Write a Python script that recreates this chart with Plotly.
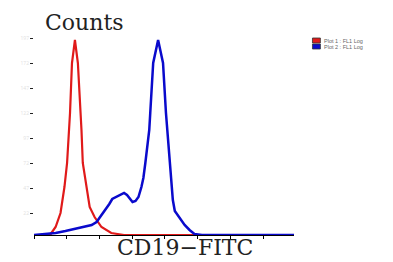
import plotly.graph_objects as go

# Data (x in log decades, y in counts)
red_x = [0.00, 0.36, 0.51, 0.66, 0.81, 0.93, 1.01, 1.07, 1.10, 1.16, 1.25, 1.34, 1.43, 1.45, 1.49, 1.61, 1.70, 1.85, 2.06, 2.36, 2.75, 7.94]
red_y = [0, 0, 1, 8, 22, 48, 72, 108, 122, 172, 195, 172, 122, 105, 72, 48, 28, 18, 8, 2, 0, 0]

blue_x = [0.00, 0.36, 0.66, 0.96, 1.25, 1.55, 1.76, 1.91, 2.00, 2.15, 2.30, 2.39, 2.51, 2.63, 2.75, 2.84, 2.96, 3.01, 3.10, 3.19, 3.28, 3.34, 3.40, 3.52, 3.55, 3.64, 3.79, 3.94, 4.03, 4.09, 4.15, 4.18, 4.24, 4.30, 4.45, 4.60, 4.75, 4.90, 5.13, 7.94]
blue_y = [0, 1, 2, 4, 6, 8, 10, 13, 17, 24, 31, 36, 38, 40, 42, 40, 35, 33, 34, 38, 48, 57, 72, 105, 122, 172, 195, 172, 122, 95, 70, 55, 35, 24, 17, 10, 5, 1, 0, 0]

series_names = ["Plot 1 : FL1 Log", "Plot 2 : FL1 Log"]
x_title = "CD19−FITC"
y_title = "Counts"

fig = go.Figure()
fig.add_trace(go.Scatter(x=red_x, y=red_y, mode="lines", name=series_names[0],
                         line=dict(color="#e01a1a", width=2.2), showlegend=False))
fig.add_trace(go.Scatter(x=blue_x, y=blue_y, mode="lines", name=series_names[1],
                         line=dict(color="#0a0acc", width=2.5), showlegend=False))

fig.update_layout(
    width=393, height=262,
    margin=dict(l=20, r=107, t=27, b=35),
    paper_bgcolor="white", plot_bgcolor="white",
    xaxis=dict(range=[0, 7.94], showgrid=False, zeroline=False,
               showline=True, linecolor="black", linewidth=1,
               ticks="outside", ticklen=3, tickcolor="black", tickwidth=1,
               tick0=0, dtick=1, showticklabels=False),
    yaxis=dict(range=[0, 200], showgrid=False, zeroline=False, showline=False,
               ticks="outside", ticklen=3, tickcolor="#222", tickwidth=1,
               tick0=22, dtick=25, showticklabels=True,
               tickfont=dict(size=5, color="#e2e2e2")),
    showlegend=False,
)

fig.add_annotation(text=y_title, xref="paper", yref="paper", x=0.034, y=1.0625,
                   xanchor="left", yanchor="middle", showarrow=False,
                   font=dict(family="DejaVu Serif", size=22, color="#222"))
fig.add_annotation(text=x_title, xref="paper", yref="paper", x=0.58, y=-0.06,
                   xanchor="center", yanchor="middle", showarrow=False,
                   font=dict(family="DejaVu Serif", size=22, color="#222"))

# Legend swatches and labels
colors = ["#e01a1a", "#0a0acc"]
ys = [(0.985, 0.96), (0.955, 0.93)]
for name, c, (y0, y1) in zip(series_names, colors, ys):
    fig.add_shape(type="rect", xref="paper", yref="paper", x0=1.071, x1=1.1015,
                  y0=y1, y1=y0, fillcolor=c, line=dict(color="#333", width=0.8))
    fig.add_annotation(text=name, xref="paper", yref="paper", x=1.109, y=(y0 + y1) / 2,
                       xanchor="left", yanchor="middle", showarrow=False,
                       font=dict(family="Liberation Sans", size=5.5, color="#666"))

fig.write_html("out.html")
